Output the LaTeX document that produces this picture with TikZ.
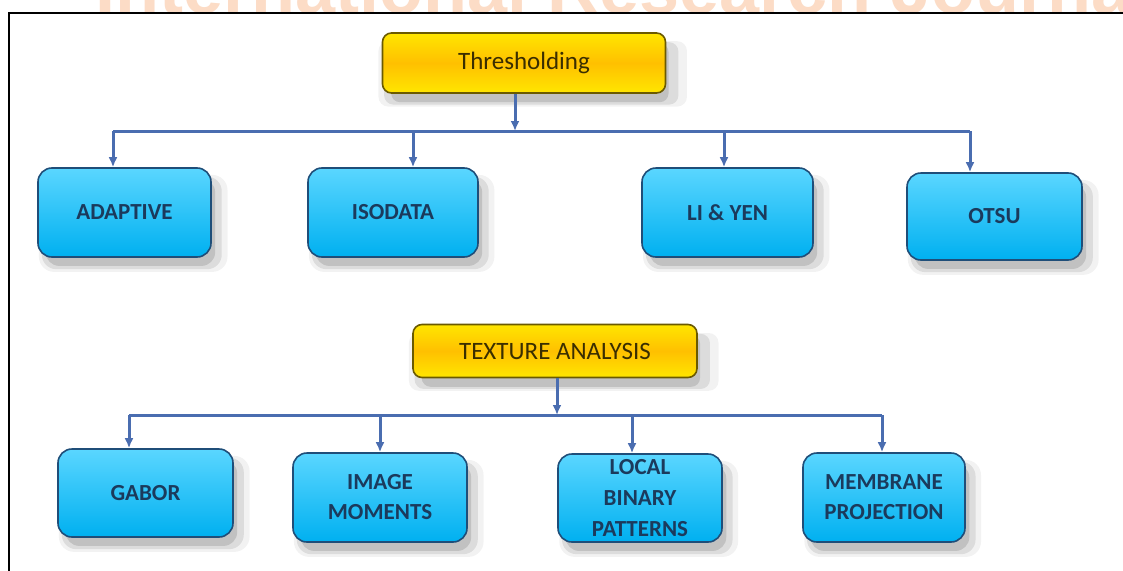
\documentclass[tikz,border=0pt]{standalone}
\usepackage{fontspec}
\setmainfont{Carlito}
\newfontfamily\wmfont{Liberation Sans}
\usetikzlibrary{shadows,arrows.meta,calc}
\definecolor{boxfillA}{HTML}{5AD6FF}
\definecolor{boxfillB}{HTML}{00B0F0}
\definecolor{boxline}{HTML}{1F4E79}
\definecolor{boxtext}{HTML}{1B3A5C}
\definecolor{goldA}{HTML}{FFE600}
\definecolor{goldB}{HTML}{FFC000}
\definecolor{goldline}{HTML}{6B5A00}
\definecolor{goldtext}{HTML}{3A2E00}
\definecolor{conn}{HTML}{4A6DB0}
\definecolor{wmcol}{HTML}{FCDCC6}
\tikzset{
  softshadow/.style={
    general shadow={fill=black,opacity=0.05,shadow xshift=8pt,shadow yshift=-10pt,shadow scale=1.09},
    general shadow={fill=black,opacity=0.09,shadow xshift=7pt,shadow yshift=-10pt,shadow scale=1.04},
    general shadow={fill=black,opacity=0.12,shadow xshift=6pt,shadow yshift=-10pt,shadow scale=0.98}},
  bluebox/.style={rectangle, rounded corners=14pt, draw=boxline, line width=1.6pt,
    top color=boxfillA, bottom color=boxfillB, text=boxtext, softshadow,
    font=\bfseries\fontsize{23}{30}\selectfont, align=center, inner sep=0pt},
  goldbox/.style={rectangle, rounded corners=9pt, draw=goldline, line width=1.6pt,
    top color=goldA, bottom color=goldA, middle color=goldB, text=goldtext, softshadow,
    font=\fontsize{25}{30}\selectfont, align=center, inner sep=0pt},
  conline/.style={draw=conn, line width=3pt},
  conarrow/.style={conline, -{Latex[length=10pt,width=9pt]}}
}
\begin{document}
\begin{tikzpicture}[x=1pt,y=-1pt]
\fill[white] (0,0) rectangle (1123,570);
\useasboundingbox (0,0) rectangle (1123,570);
% watermark (cut off at the top)
\begin{scope}
\clip (0,0) rectangle (1123,12.5);
\node[anchor=base west, font=\wmfont\bfseries\fontsize{72}{72}\selectfont, text=wmcol, inner sep=0pt] (wm) at (95,13) {International Research Journal};
\end{scope}
% frame
\draw[line width=1.6pt] (9,580) -- (9,13) -- (1135,13);
% top group
\node[goldbox, minimum width=283pt, minimum height=60pt] (thr) at (524,63) {Thresholding};
\node[bluebox, minimum width=173pt, minimum height=89pt] (adaptive) at (124.5,212.5) {ADAPTIVE};
\node[bluebox, minimum width=170pt, minimum height=89pt] (isodata) at (393,212.5) {ISODATA};
\node[bluebox, minimum width=171pt, minimum height=89pt] (liyen) at (727.5,212.5) {LI \& YEN};
\node[bluebox, minimum width=175pt, minimum height=87pt] (otsu) at (994.5,216.5) {OTSU};
\coordinate (bT) at (515,131);
\coordinate (dA) at (113,131);
\coordinate (dI) at (413,131);
\coordinate (dL) at (724,131);
\coordinate (dO) at (970,131);
\draw[conline] (dA) -- (dO);
\draw[conarrow] (thr.south -| bT) -- (bT);
\draw[conarrow] (dA) -- (dA |- adaptive.north);
\draw[conarrow] (dI) -- (dI |- isodata.north);
\draw[conarrow] (dL) -- (dL |- liyen.north);
\draw[conarrow] (dO) -- (dO |- otsu.north);
% bottom group
\node[goldbox, minimum width=284pt, minimum height=53pt] (tex) at (555,351) {TEXTURE ANALYSIS};
\node[bluebox, minimum width=175pt, minimum height=88pt] (gabor) at (145.5,493) {GABOR};
\node[bluebox, minimum width=174pt, minimum height=89pt] (immom) at (380,497.5) {IMAGE\\MOMENTS};
\node[bluebox, minimum width=164pt, minimum height=88pt, font=\bfseries\fontsize{23}{31}\selectfont] (lbp) at (640,498) {LOCAL\\BINARY\\PATTERNS};
\node[bluebox, minimum width=162pt, minimum height=89pt] (memb) at (884,497.5) {MEMBRANE\\PROJECTION};
\coordinate (bB) at (557,415);
\coordinate (dG) at (129,415);
\coordinate (dM) at (380,415);
\coordinate (dP) at (632,415);
\coordinate (dR) at (882,415);
\draw[conline] (dG) -- (dR);
\draw[conarrow] (tex.south -| bB) -- (bB);
\draw[conarrow] (dG) -- (dG |- gabor.north);
\draw[conarrow] (dM) -- (dM |- immom.north);
\draw[conarrow] (dP) -- (dP |- lbp.north);
\draw[conarrow] (dR) -- (dR |- memb.north);
\end{tikzpicture}
\end{document}
